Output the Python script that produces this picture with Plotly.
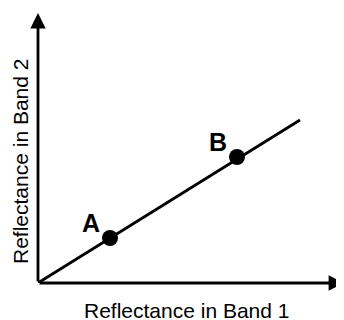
import plotly.graph_objects as go

# data (pixel-like units, origin at axes corner)
line_x = [0, 262]
line_y = [0, 163]
pt_labels = ["A", "B"]
pt_x = [72, 199]
pt_y = [45, 126]
x_title = "Reflectance in Band 1"
y_title = "Reflectance in Band 2"

fig = go.Figure()

fig.add_trace(go.Scatter(
    x=line_x, y=line_y, mode="lines",
    line=dict(color="black", width=2.8),
    showlegend=False, hoverinfo="skip"
))

fig.add_trace(go.Scatter(
    x=pt_x, y=pt_y, mode="markers",
    marker=dict(color="black", size=16),
    showlegend=False
))

# axis arrows
fig.add_annotation(x=0, y=270, ax=0, ay=0, xref="x", yref="y", axref="x", ayref="y",
                   showarrow=True, arrowhead=2, arrowsize=1.1, arrowwidth=2.8,
                   arrowcolor="black", text="")
fig.add_annotation(x=306, y=0, ax=0, ay=0, xref="x", yref="y", axref="x", ayref="y",
                   showarrow=True, arrowhead=2, arrowsize=1.1, arrowwidth=2.8,
                   arrowcolor="black", text="")

# point labels
for lab, px, py in zip(pt_labels, pt_x, pt_y):
    fig.add_annotation(x=px, y=py, xref="x", yref="y", text=f"<b>{lab}</b>",
                       showarrow=False, xshift=-19, yshift=15,
                       font=dict(family="Liberation Sans, Arial", size=25, color="black"))

# axis titles
fig.add_annotation(x=0.4745, y=-0.101, xref="paper", yref="paper", text=x_title,
                   showarrow=False, yanchor="middle",
                   font=dict(family="Liberation Sans, Arial", size=21, color="black"))
fig.add_annotation(x=-0.0573, y=0.44, xref="paper", yref="paper", text=y_title,
                   showarrow=False, textangle=-90, xanchor="center",
                   font=dict(family="Liberation Sans, Arial", size=21, color="black"))

fig.update_xaxes(range=[0, 314], visible=False, fixedrange=True)
fig.update_yaxes(range=[0, 275], visible=False, fixedrange=True)

fig.update_layout(
    width=344, height=320,
    margin=dict(l=30, r=0, t=0, b=45),
    plot_bgcolor="white", paper_bgcolor="white"
)

fig.write_html("out.html")
